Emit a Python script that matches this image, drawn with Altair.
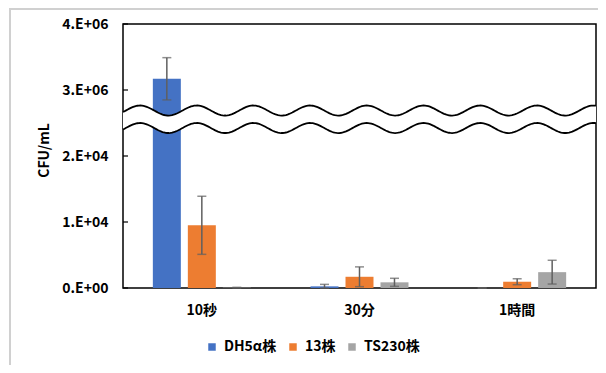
import altair as alt
import pandas as pd
import numpy as np

groups = ["10秒", "30分", "1時間"]
strains = ["DH5α株", "13株", "TS230株"]
colors = ["#4472C4", "#ED7D31", "#A5A5A5"]
dh5a = [3.17e6, 2.5e2, 0.0]
s13 = [9.5e3, 1.7e3, 9.5e2]
ts230 = [5.0e1, 8.6e2, 2.4e3]
dh5a_err = [3.2e5, 3.0e2, 0.0]
s13_err = [4.4e3, 1.5e3, 4.5e2]
ts230_err = [5.0e1, 6.1e2, 1.8e3]
tick_values = [0, 1, 2, 3, 4]
tick_labels = ["0.E+00", "1.E+04", "2.E+04", "3.E+06", "4.E+06"]

FONT = "Noto Sans CJK JP"

rows = []
for s, vals, errs in zip(strains, [dh5a, s13, ts230], [dh5a_err, s13_err, ts230_err]):
    for g, v, e in zip(groups, vals, errs):
        rows.append({"group": g, "strain": s, "v": v, "lo": max(v - e, 0.0), "hi": v + e})
df = pd.DataFrame(rows)

# broken-axis mapping: values >= 1e6 shown in units of 1e6, others in units of 1e4
disp = lambda f: f"datum.{f} >= 1e6 ? datum.{f} / 1e6 : datum.{f} / 1e4"

label_expr = " : ".join(
    [f"datum.value == {t} ? '{l}'" for t, l in zip(tick_values, tick_labels)]
) + " : ''"

yscale = alt.Scale(domain=[0, 4], nice=False, zero=True)

base = alt.Chart(df).transform_calculate(
    d=disp("v"), dlo=disp("lo"), dhi=disp("hi")
)

xscale = alt.Scale(paddingInner=0, paddingOuter=0)
xenc = alt.X(
    "group:N",
    sort=groups,
    scale=xscale,
    axis=alt.Axis(title=None, labelAngle=0, ticks=False, tickSize=0, domain=False,
                  labelPadding=15, labelFontSize=14, labelFontWeight="bold",
                  labelColor="#000000", labelFont=FONT),
)
xenc_na = alt.X("group:N", sort=groups, scale=xscale, axis=None)
xoff = alt.XOffset("strain:N", sort=strains,
                   scale=alt.Scale(paddingInner=0.2, paddingOuter=0.853))

yaxis = alt.Axis(
    title="CFU/mL", values=tick_values, labelExpr=label_expr, grid=False, domain=False,
    ticks=False, tickSize=0, labelPadding=15, labelFontSize=14, labelFontWeight="bold",
    labelColor="#000000", labelFont=FONT, titleFont=FONT, titleFontSize=14,
    titleFontWeight="bold", titleColor="#000000", titleX=-79, titleY=126,
    titleAngle=270, titleBaseline="middle", titleAlign="center",
)

bars = base.mark_bar().encode(
    x=xenc,
    xOffset=xoff,
    y=alt.Y("d:Q", scale=yscale, axis=yaxis),
    color=alt.Color(
        "strain:N",
        scale=alt.Scale(domain=strains, range=colors),
        legend=alt.Legend(
            title=None, orient="none", direction="horizontal", legendX=82, legendY=316,
            symbolType="square", symbolSize=56, symbolStrokeWidth=0,
            labelFontSize=14, labelFontWeight="bold", labelFont=FONT, labelColor="#000000",
            columnPadding=9, labelOffset=5, padding=0,
        ),
    ),
)

err = base.mark_rule(color="#5f5f5f", strokeWidth=1.5).encode(
    x=xenc_na, xOffset=xoff,
    y=alt.Y("dlo:Q", scale=yscale, title="CFU/mL"), y2="dhi:Q",
)
cap_lo = base.mark_tick(color="#5f5f5f", thickness=1.5, size=9, orient="horizontal").encode(
    x=xenc_na, xOffset=xoff, y=alt.Y("dlo:Q", scale=yscale, title="CFU/mL"),
)
cap_hi = base.mark_tick(color="#5f5f5f", thickness=1.5, size=9, orient="horizontal").encode(
    x=xenc_na, xOffset=xoff, y=alt.Y("dhi:Q", scale=yscale, title="CFU/mL"),
)

# decorative wavy break
W = 473.0
xs = np.linspace(0, 1, 300)
phase = 2 * np.pi * (xs * W - 73.7) / 56.7
up = 2.689 + 0.076 * np.cos(phase)
lw = 2.424 + 0.076 * np.cos(phase)
wave = pd.DataFrame({"x": xs, "up": up, "lw": lw})
wave_long = pd.concat([
    pd.DataFrame({"x": xs, "y": up, "edge": "u"}),
    pd.DataFrame({"x": xs, "y": lw, "edge": "l"}),
])
wx = alt.X("x:Q", scale=alt.Scale(domain=[0, 1], nice=False, zero=False), axis=None)
wave_fill = alt.Chart(wave).mark_area(color="white", opacity=1).encode(
    x=wx, y=alt.Y("lw:Q", scale=yscale, title="CFU/mL"), y2="up:Q",
)
wave_lines = alt.Chart(wave_long).mark_line(color="#000000", strokeWidth=1.8).encode(
    x=wx, y=alt.Y("y:Q", scale=yscale, title="CFU/mL"), detail="edge:N",
)

ticks = alt.Chart(pd.DataFrame({"t": tick_values})).mark_rule(
    color="#000000", strokeWidth=1.2
).encode(
    y=alt.Y("t:Q", scale=yscale, title="CFU/mL"), x=alt.value(0), x2=alt.value(5),
)

dummy = pd.DataFrame({"a": [0]})
border_left = alt.Chart(dummy).mark_rule(color="#d0d0d0", strokeWidth=2).encode(
    x=alt.value(-113), y=alt.value(-16), y2=alt.value(349)
)
border_top = alt.Chart(dummy).mark_rule(color="#d0d0d0", strokeWidth=2).encode(
    x=alt.value(-113), x2=alt.value(483), y=alt.value(-15)
)

chart = alt.layer(
    bars, err, cap_lo, cap_hi, wave_fill, wave_lines, ticks, border_left, border_top
).resolve_scale(x="independent").properties(
    width=473, height=264,
    autosize=alt.AutoSizeParams(type="none"),
    padding={"left": 115, "top": 16, "right": 2, "bottom": 77},
    background="white",
).configure_view(stroke="#000000", strokeWidth=1.5)

chart.save("out.html", embed_options={"renderer": "svg", "actions": False})
